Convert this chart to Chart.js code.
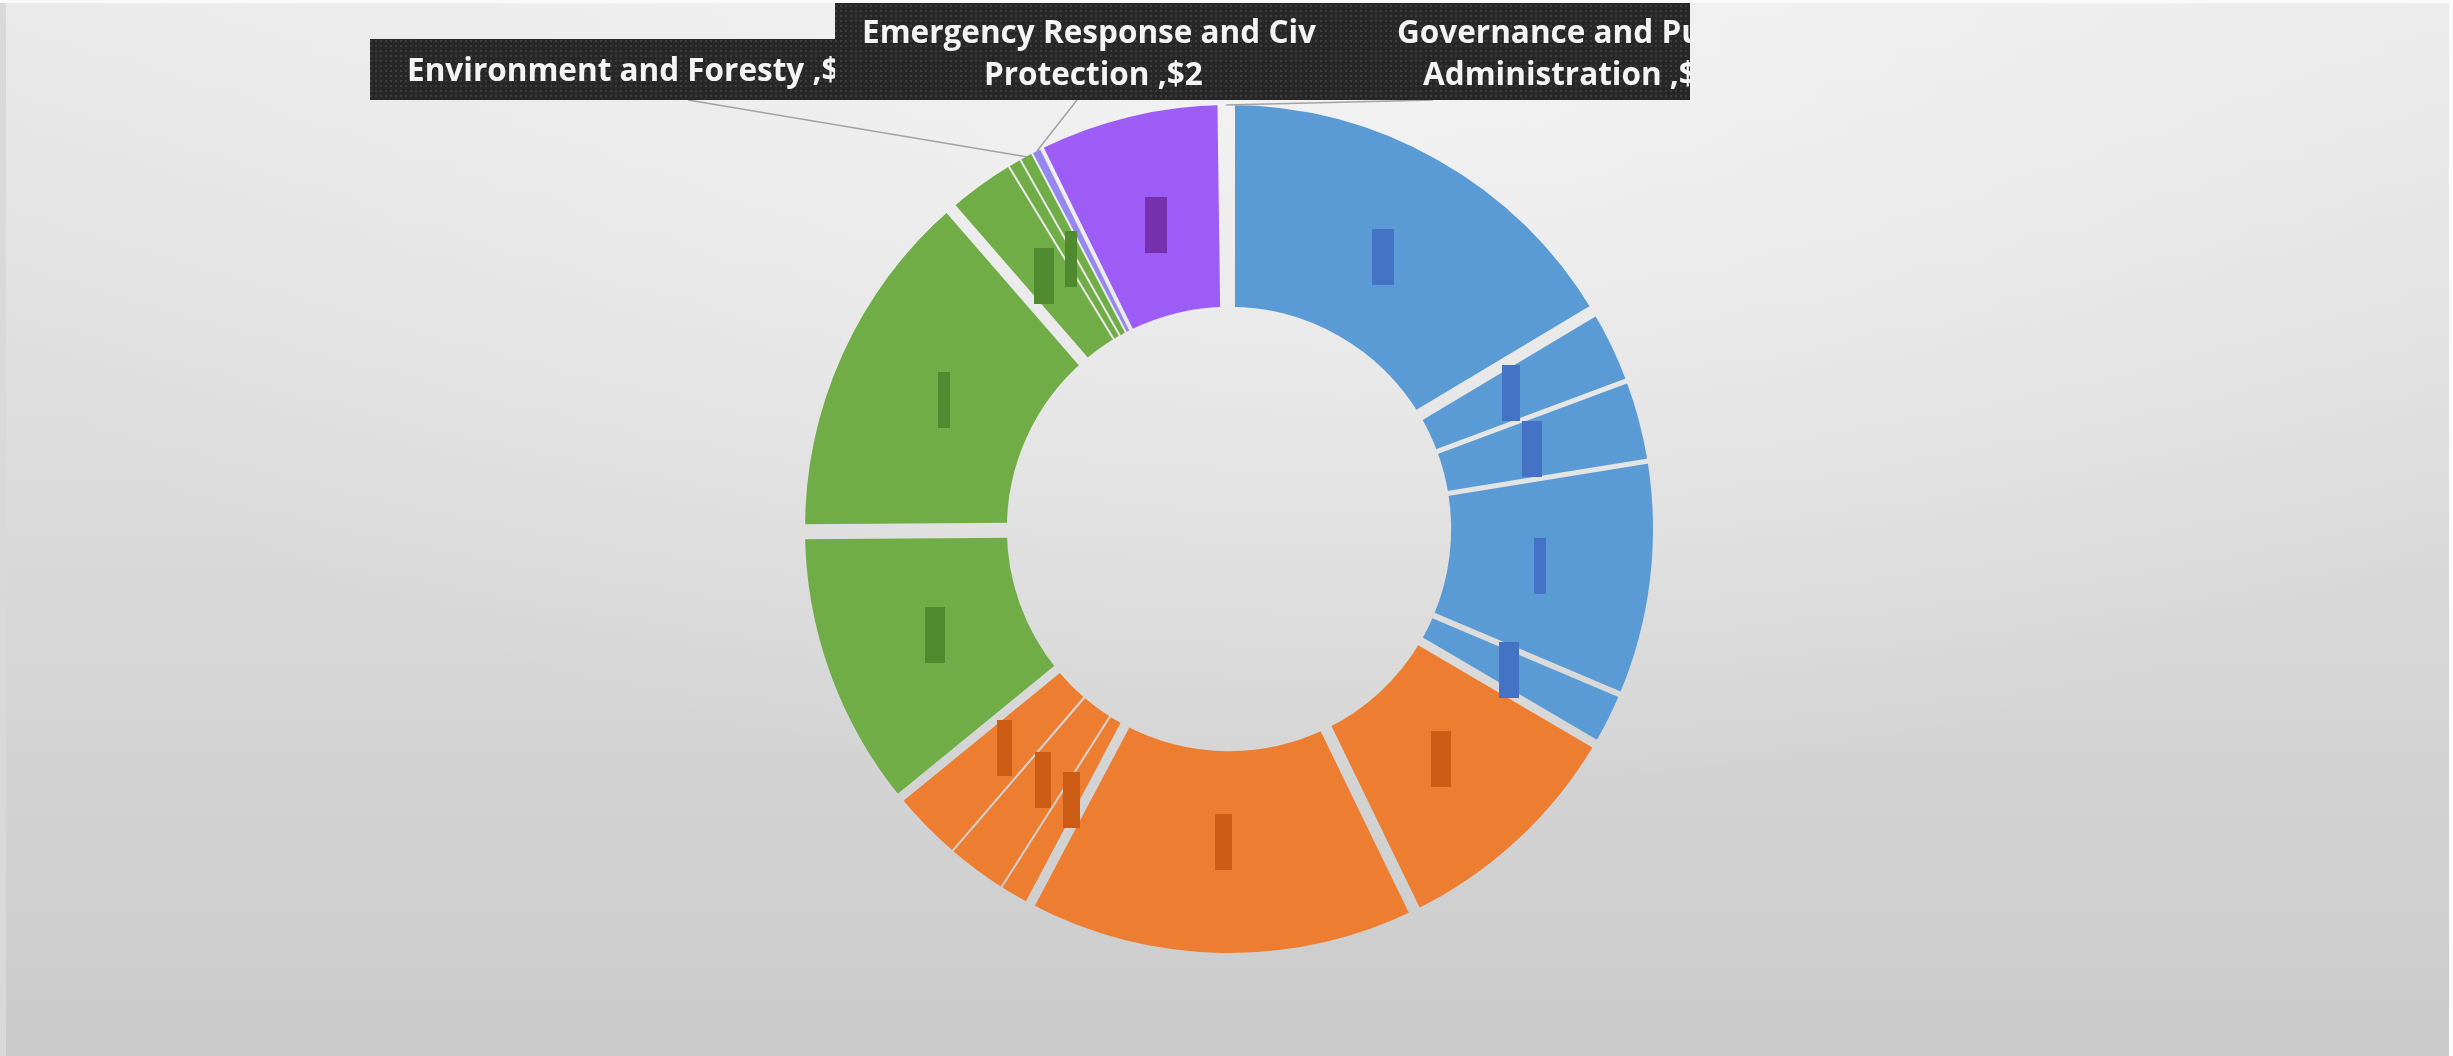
<!DOCTYPE html>
<html>
<head>
<meta charset="utf-8">
<title>Spending doughnut</title>
<script src="https://cdn.jsdelivr.net/npm/chart.js@4.4.1/dist/chart.umd.min.js"></script>
<style>
    html, body {
        margin: 0;
        padding: 0;
        width: 2453px;
        height: 1056px;
        overflow: hidden;
    }
    body {
        background:
            linear-gradient(#fafafa 0 3px, transparent 3px),
            linear-gradient(to right, #d9d9d9 0 6px, transparent 6px),
            linear-gradient(to left, #fbfbfb 0 4px, transparent 4px),
            radial-gradient(ellipse 1500px 760px at 1350px 40px, rgba(248, 248, 248, 0.7), rgba(248, 248, 248, 0)),
            linear-gradient(#e9e9e9, #cbcbcb);
    }
    #donutCanvas {
        display: block;
    }
</style>
</head>
<body>
<canvas id="donutCanvas" width="2453" height="1056"></canvas>
<script>
// slices clockwise from 12 o'clock, values in $
const sectorNames = [
    'Sector 1', 'Sector 2', 'Sector 3', 'Sector 4', 'Sector 5',
    'Sector 6', 'Sector 7', 'Sector 8', 'Sector 9', 'Sector 10',
    'Sector 11', 'Sector 12', 'Sector 13', 'Sector 14', 'Environment and Foresty',
    'Emergency Response and Civil Protection', 'Sector 17', 'Governance and Public Administration'
];
const sectorValues = [79, 14, 15, 43, 10, 45, 72, 6, 11, 13.5, 52, 66, 13, 2.4, 2.4, 2, 34, 1];
const sectorGroups = [
    'blue', 'blue', 'blue', 'blue', 'blue',
    'orange', 'orange', 'orange', 'orange', 'orange',
    'green', 'green', 'green', 'green', 'green',
    'violet', 'purple', 'purple'
];
// slices that get a callout box instead of an inner marker
const calloutSectors = ['Environment and Foresty', 'Emergency Response and Civil Protection', 'Governance and Public Administration'];

// styles
const groupColors = { blue: '#5b9bd5', orange: '#ed7d31', green: '#70ad47', violet: '#9488f0', purple: '#9d5cf6' };
const markerColors = { blue: '#4472c4', orange: '#cc5c14', green: '#4f8a2f', violet: '#6a5acd', purple: '#7630ae' };
const gapAfter = [12, 5, 5, 6, 9, 12, 10, 2, 2, 9, 15, 12, 2, 2, 2, 4, 12, 12];
const markerWidths = [22, 18, 20, 12, 20, 20, 17, 17, 16, 15, 20, 12, 20, 12, 0, 0, 22, 0];
const calloutLayout = [
    { x: 370, y: 39, w: 520, h: 61, clip: [370, 890], lines: [[407, 72]], from: [688, 100] },
    { x: 835, y: 3, w: 510, h: 97, clip: [835, 1318], split: 4, lines: [[862, 34], [984, 76]], from: [1077, 100] },
    { x: 1318, y: 3, w: 372, h: 97, clip: [1318, 1690], split: 3, lines: [[1397, 34], [1423, 76]], from: [1433, 100] }
];

class SpendingDonut {

    static pointers = {
        canvas: 'donutCanvas'
    }

    // cut the gaps between slices so the page background shows through
    static gapPlugin = {
        id: 'sliceGaps',
        afterDatasetsDraw: (chart) => {
            const ctx = chart.ctx;
            const arcs = chart.getDatasetMeta(0).data;
            ctx.save();
            ctx.globalCompositeOperation = 'destination-out';
            ctx.strokeStyle = '#000';
            ctx.lineCap = 'butt';
            arcs.forEach((arc, i) => {
                if (!gapAfter[i]) return;
                const a = arc.endAngle;
                ctx.lineWidth = gapAfter[i];
                ctx.beginPath();
                ctx.moveTo(arc.x + Math.cos(a) * (arc.innerRadius - 4), arc.y + Math.sin(a) * (arc.innerRadius - 4));
                ctx.lineTo(arc.x + Math.cos(a) * (arc.outerRadius + 4), arc.y + Math.sin(a) * (arc.outerRadius + 4));
                ctx.stroke();
            });
            ctx.restore();
        }
    }

    // small dark label blocks sitting inside each slice
    static markerPlugin = {
        id: 'sliceMarkers',
        afterDraw: (chart) => {
            const ctx = chart.ctx;
            const arcs = chart.getDatasetMeta(0).data;
            arcs.forEach((arc, i) => {
                if (!markerWidths[i]) return;
                const mid = (arc.startAngle + arc.endAngle) / 2;
                const r = arc.innerRadius + 0.45 * (arc.outerRadius - arc.innerRadius);
                const cx = arc.x + Math.cos(mid) * r;
                const cy = arc.y + Math.sin(mid) * r;
                ctx.fillStyle = markerColors[sectorGroups[i]];
                ctx.fillRect(Math.round(cx - markerWidths[i] / 2), Math.round(cy - 28), markerWidths[i], 56);
            });
        }
    }

    static dotPattern = (ctx) => {
        const tile = document.createElement('canvas');
        tile.width = 5;
        tile.height = 5;
        const t = tile.getContext('2d');
        t.fillStyle = '#272727';
        t.fillRect(0, 0, 5, 5);
        t.fillStyle = '#3c3c3c';
        t.fillRect(0, 0, 2, 2);
        return ctx.createPattern(tile, 'repeat');
    }

    // leader lines and the dark callout boxes above the ring
    static calloutPlugin = {
        id: 'callouts',
        afterDraw: (chart) => {
            const ctx = chart.ctx;
            const arcs = chart.getDatasetMeta(0).data;
            const pattern = this.dotPattern(ctx);

            calloutSectors.forEach((name, k) => {
                const i = sectorNames.indexOf(name);
                const arc = arcs[i];
                const box = calloutLayout[k];
                const mid = (arc.startAngle + arc.endAngle) / 2;
                ctx.save();
                ctx.strokeStyle = '#a3a3a3';
                ctx.lineWidth = 1.5;
                ctx.beginPath();
                ctx.moveTo(box.from[0], box.from[1]);
                ctx.lineTo(arc.x + Math.cos(mid) * arc.outerRadius, arc.y + Math.sin(mid) * arc.outerRadius);
                ctx.stroke();
                ctx.restore();
            });

            calloutSectors.forEach((name, k) => {
                const i = sectorNames.indexOf(name);
                const box = calloutLayout[k];
                const words = `${name} ,$${Math.round(sectorValues[i])}`.split(' ');
                const lines = box.split ? [words.slice(0, box.split).join(' '), words.slice(box.split).join(' ')] : [words.join(' ')];

                ctx.save();
                ctx.fillStyle = pattern;
                ctx.fillRect(box.x, box.y, box.w, box.h);
                ctx.beginPath();
                ctx.rect(box.clip[0], box.y, box.clip[1] - box.clip[0], box.h);
                ctx.clip();
                ctx.fillStyle = '#f4f4f4';
                ctx.font = 'bold 31.5px "Open Sans"';
                ctx.textAlign = 'left';
                ctx.textBaseline = 'middle';
                lines.forEach((line, n) => {
                    ctx.fillText(line, box.lines[n][0], box.lines[n][1]);
                });
                ctx.restore();
            });
        }
    }

    static init = () => {
        const canvas = document.getElementById(this.pointers.canvas);
        return new Chart(canvas, {
            type: 'doughnut',
            data: {
                labels: sectorNames,
                datasets: [{
                    data: sectorValues,
                    backgroundColor: sectorGroups.map(g => groupColors[g]),
                    borderWidth: 0
                }]
            },
            options: {
                responsive: false,
                animation: false,
                devicePixelRatio: 1,
                events: [],
                radius: 424,
                cutout: '52.4%',
                layout: {
                    padding: { left: 5, right: 0, top: 2, bottom: 0 }
                },
                plugins: {
                    legend: { display: false },
                    tooltip: { enabled: false }
                }
            },
            plugins: [this.gapPlugin, this.markerPlugin, this.calloutPlugin]
        });
    }
}

SpendingDonut.init();
</script>
</body>
</html>
